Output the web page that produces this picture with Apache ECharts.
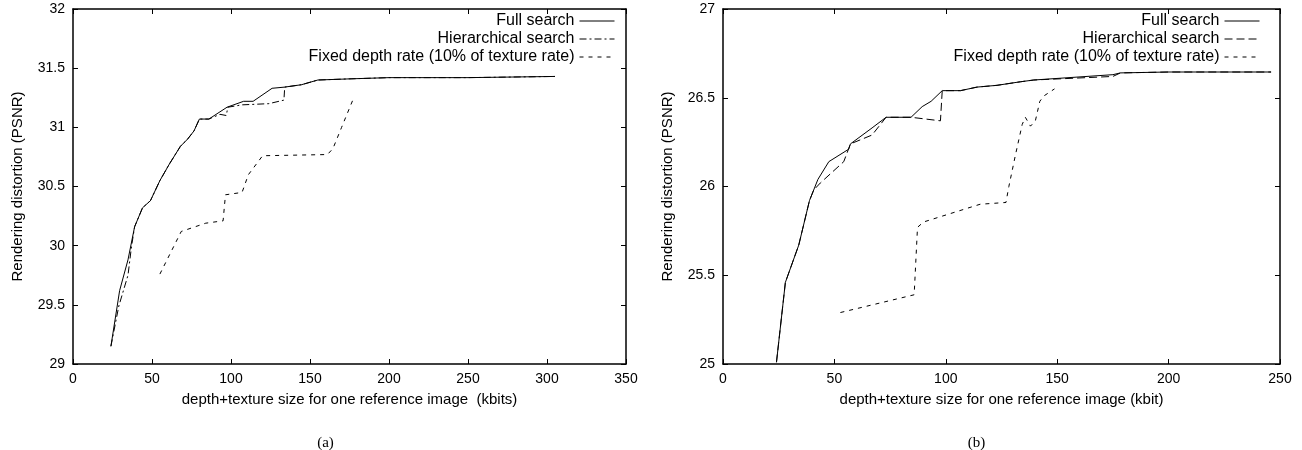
<!DOCTYPE html>
<html>
<head>
<meta charset="utf-8">
<script src="https://cdn.jsdelivr.net/npm/echarts@6.0.0/dist/echarts.min.js"></script>
<style>
  body { margin: 0; background: #fff; }
  #wrap { width: 1302px; height: 450px; display: flex; }
  .pane { width: 651px; height: 450px; }
</style>
</head>
<body>
<div id="wrap">
  <div id="chart-a" class="pane"></div>
  <div id="chart-b" class="pane"></div>
</div>
<script>
const seriesNames = ["Full search", "Hierarchical search", "Fixed depth rate (10% of texture rate)"];

// (a) kbits vs PSNR
const fullA = [
  [24, 29.15], [29.5, 29.62], [34.8, 29.88], [39, 30.16], [44, 30.32], [49, 30.38],
  [55, 30.55], [61, 30.69], [68, 30.84], [72.5, 30.9], [76.6, 30.97], [80, 31.07],
  [86, 31.07], [97.5, 31.17], [108, 31.22], [114, 31.22], [126, 31.33], [134, 31.34],
  [144.6, 31.36], [155, 31.4], [176, 31.41], [200, 31.42], [250, 31.42], [305, 31.43]
];
const hierA = [
  [24, 29.15], [29, 29.49], [34.8, 29.75], [37, 29.99], [39, 30.16], [44, 30.32],
  [49, 30.38], [55, 30.55], [61, 30.69], [68, 30.84], [72.5, 30.9], [76.6, 30.97],
  [80, 31.07], [86, 31.07], [93, 31.11], [97, 31.1], [98, 31.17], [107, 31.19],
  [124, 31.2], [133.5, 31.23], [134, 31.34], [144.6, 31.36], [155, 31.4], [176, 31.41],
  [200, 31.42], [250, 31.42], [305, 31.43]
];
const fixedA = [
  [55, 29.76], [68.5, 30.12], [84, 30.19], [95, 30.21], [96.5, 30.43], [107, 30.45],
  [111, 30.6], [120, 30.76], [161, 30.77], [164.5, 30.82], [170, 31.0], [178, 31.26]
];

// (b) kbit vs PSNR
const fullB = [
  [24, 25.01], [28, 25.46], [34, 25.67], [38.8, 25.92], [42.6, 26.04], [47.5, 26.14],
  [56.4, 26.21], [57.2, 26.24], [66.9, 26.33], [73.2, 26.39], [84.4, 26.39], [89.4, 26.45],
  [93.4, 26.48], [98.4, 26.54], [106.6, 26.54], [114, 26.56], [123, 26.57], [133.5, 26.59],
  [139.5, 26.6], [175, 26.63], [178.4, 26.64], [200, 26.645], [246, 26.645]
];
const hierB = [
  [24, 25.01], [28, 25.46], [34, 25.67], [38.8, 25.92], [40.7, 25.98], [43.7, 26.02],
  [54.2, 26.14], [57.2, 26.24], [66.9, 26.29], [73.2, 26.39], [84.4, 26.39], [97.6, 26.37],
  [98.4, 26.54], [106.6, 26.54], [114, 26.56], [123, 26.57], [133.5, 26.59], [139.5, 26.6],
  [175, 26.62], [178.4, 26.64], [200, 26.645], [246, 26.645]
];
const fixedB = [
  [52.7, 25.29], [85.8, 25.39], [87.3, 25.77], [90, 25.8], [115.4, 25.9], [127, 25.91],
  [128.3, 26.0], [131.3, 26.18], [134.3, 26.35], [135.7, 26.39], [138, 26.34], [140.2, 26.37],
  [142.2, 26.48], [144, 26.51], [148.8, 26.55]
];

const xRangeA = [0, 350, 50];
const yRangeA = [29, 32, 0.5];
const xRangeB = [0, 250, 50];
const yRangeB = [25, 27, 0.5];

const font = "Liberation Sans";

function axisBase(pos, range, showLabel) {
  return {
    type: "value",
    position: pos,
    min: range[0],
    max: range[1],
    interval: range[2],
    splitLine: { show: false },
    axisLine: { show: true, onZero: false, lineStyle: { color: "#000", width: 1.5 } },
    axisTick: { show: true, inside: true, length: 5, lineStyle: { color: "#000", width: 1 } },
    axisLabel: {
      show: showLabel, color: "#000", fontFamily: font, fontSize: 14, margin: 8,
      showMinLabel: true, showMaxLabel: true
    }
  };
}

function makeChart(el, cfg) {
  const chart = echarts.init(document.getElementById(el), null, { renderer: "canvas" });
  const lineSeries = (name, data, dash) => ({
    name: name,
    type: "line",
    data: data,
    symbol: "none",
    smooth: false,
    lineStyle: { color: "#000", width: 1, type: dash },
    itemStyle: { color: "#000" },
    emphasis: { disabled: true }
  });
  const option = {
    animation: false,
    backgroundColor: "#fff",
    title: {
      text: cfg.caption,
      left: "center",
      top: 431,
      textStyle: { fontFamily: "Liberation Serif", fontSize: 15, fontWeight: "normal", color: "#000" }
    },
    legend: {
      orient: "vertical",
      right: cfg.legendRight,
      top: 8,
      align: "right",
      itemWidth: 35,
      itemHeight: 12,
      itemGap: 2,
      data: seriesNames,
      itemStyle: { opacity: 0 },
      lineStyle: { width: 1 },
      textStyle: { fontFamily: font, fontSize: 16, color: "#000" }
    },
    grid: {
      left: cfg.gridLeft, right: cfg.gridRight, top: 9, bottom: 86,
      outerBoundsMode: "none"
    },
    xAxis: [
      Object.assign(axisBase("bottom", cfg.xRange, true), {
        name: cfg.xName,
        nameLocation: "middle",
        nameGap: 28,
        nameTextStyle: { fontFamily: font, fontSize: 15, color: "#000" }
      }),
      axisBase("top", cfg.xRange, false)
    ],
    yAxis: [
      Object.assign(axisBase("left", cfg.yRange, true), {
        name: "Rendering distortion (PSNR)",
        nameLocation: "middle",
        nameGap: 48,
        nameTextStyle: { fontFamily: font, fontSize: 15, color: "#000" }
      }),
      axisBase("right", cfg.yRange, false)
    ],
    series: [
      lineSeries(seriesNames[0], cfg.full, "solid"),
      lineSeries(seriesNames[1], cfg.hier, cfg.hierDash),
      lineSeries(seriesNames[2], cfg.fixed, [4, 5])
    ]
  };
  chart.setOption(option);
  return chart;
}

makeChart("chart-a", {
  caption: "(a)",
  xName: "depth+texture size for one reference image  (kbits)",
  xRange: xRangeA, yRange: yRangeA,
  gridLeft: 73, gridRight: 25, legendRight: 31,
  full: fullA, hier: hierA, fixed: fixedA,
  hierDash: [7, 3, 2, 3]
});

makeChart("chart-b", {
  caption: "(b)",
  xName: "depth+texture size for one reference image (kbit)",
  xRange: xRangeB, yRange: yRangeB,
  gridLeft: 72, gridRight: 22, legendRight: 37,
  full: fullB, hier: hierB, fixed: fixedB,
  hierDash: [8, 4]
});
</script>
</body>
</html>
